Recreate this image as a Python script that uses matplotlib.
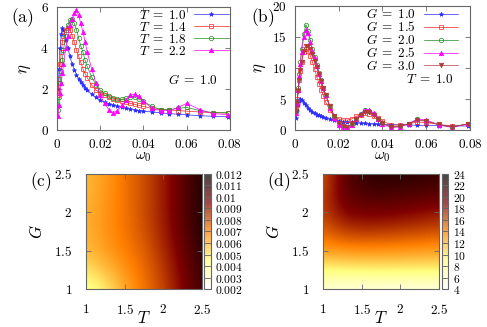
import matplotlib
matplotlib.use('Agg')
import matplotlib.pyplot as plt
import numpy as np
from matplotlib.ticker import FuncFormatter, MultipleLocator
from matplotlib.colors import ListedColormap, Normalize
from matplotlib.cm import ScalarMappable

plt.rcParams['mathtext.fontset'] = 'cm'
plt.rcParams['font.family'] = 'DejaVu Serif'

# frequencies (shared by all curves)
omega = [0.0005, 0.001, 0.0015, 0.002, 0.0025, 0.003, 0.004, 0.005, 0.006, 0.007,
         0.008, 0.009, 0.010, 0.011, 0.012, 0.013, 0.014, 0.016, 0.018, 0.020,
         0.022, 0.024, 0.026, 0.028, 0.030, 0.032, 0.034, 0.036, 0.038, 0.040,
         0.044, 0.048, 0.052, 0.056, 0.060, 0.066, 0.072, 0.079]

# panel (a): G = 1.0, different T
eta_T10 = [2.0, 3.0, 4.0, 4.7, 5.0, 4.9, 4.4, 4.0, 3.6, 3.2, 2.95, 2.7, 2.5, 2.35, 2.2,
           2.05, 1.95, 1.75, 1.6, 1.45, 1.35, 1.28, 1.22, 1.16, 1.1, 1.06, 1.02, 0.98,
           0.95, 0.92, 0.88, 0.84, 0.8, 0.77, 0.74, 0.7, 0.67, 0.65]
eta_T14 = [1.7, 2.5, 3.2, 3.8, 4.3, 4.6, 4.9, 5.0, 4.9, 4.6, 4.3, 3.9, 3.6, 3.3, 3.0,
           2.75, 2.55, 2.2, 1.95, 1.8, 1.7, 1.6, 1.5, 1.45, 1.4, 1.35, 1.3, 1.25,
           1.2, 1.15, 1.05, 1.0, 0.98, 0.95, 0.92, 0.88, 0.85, 0.82]
eta_T18 = [1.0, 1.6, 2.3, 2.9, 3.4, 3.9, 4.6, 5.1, 5.35, 5.4, 5.2, 4.9, 4.5, 4.1, 3.8,
           3.4, 3.1, 2.6, 2.2, 1.95, 1.8, 1.65, 1.55, 1.5, 1.5, 1.55, 1.6, 1.6,
           1.5, 1.4, 1.15, 1.0, 1.0, 1.05, 1.1, 0.95, 0.85, 0.85]
eta_T22 = [0.7, 1.2, 1.8, 2.3, 2.8, 3.2, 4.0, 4.6, 5.1, 5.4, 5.7, 5.85, 5.6, 5.2, 4.8,
           4.3, 3.8, 3.0, 2.3, 1.7, 1.3, 1.0, 0.85, 0.95, 1.2, 1.45, 1.7, 1.75,
           1.65, 1.4, 1.05, 0.95, 0.95, 1.1, 1.3, 1.0, 0.8, 0.75]

# panel (b): T = 1.0, different G
eta_G10 = eta_T10
eta_G15 = [3.5, 5.0, 6.5, 8.0, 9.5, 11.0, 12.5, 13.0, 12.8, 12.0, 11.0, 9.8, 8.5, 7.5,
           6.5, 5.5, 4.5, 3.2, 2.2, 1.8, 1.6, 1.6, 1.8, 2.2, 2.5, 2.7, 2.6, 2.3,
           1.9, 1.5, 0.8, 0.8, 1.0, 1.3, 1.2, 0.9, 0.6, 0.9]
eta_G20 = [3.0, 4.5, 6.8, 9.0, 11.0, 13.0, 15.5, 17.0, 16.0, 14.5, 13.0, 11.8, 10.5,
           9.2, 8.0, 6.8, 5.7, 3.8, 2.2, 1.0, 0.4, 0.4, 0.9, 1.8, 2.6, 3.2, 3.1, 2.6,
           1.8, 1.1, 0.5, 0.6, 1.0, 1.7, 1.5, 0.8, 0.5, 1.0]
eta_G25 = [2.8, 4.3, 6.5, 8.7, 10.7, 12.6, 15.0, 16.2, 15.6, 14.2, 12.8, 11.6, 10.4,
           9.1, 7.9, 6.7, 5.6, 3.6, 2.0, 0.8, 0.2, 0.3, 0.8, 1.7, 2.6, 3.3, 3.2, 2.7,
           1.8, 1.0, 0.4, 0.5, 1.0, 1.8, 1.6, 0.8, 0.4, 1.0]
eta_G30 = [3.0, 4.5, 6.3, 8.0, 9.6, 11.0, 12.8, 13.5, 13.5, 13.0, 12.2, 11.2, 10.2,
           9.0, 7.9, 6.8, 5.7, 3.8, 2.3, 1.2, 0.6, 0.5, 0.9, 1.7, 2.4, 2.9, 2.9, 2.5,
           1.8, 1.1, 0.5, 0.6, 1.0, 1.6, 1.4, 0.9, 0.5, 1.0]

# panels (c), (d): grid in T (columns) and G (rows)
T_grid = [1.0, 1.25, 1.5, 1.75, 2.0, 2.25, 2.5]
G_grid = [1.0, 1.25, 1.5, 1.75, 2.0, 2.25, 2.5]
map_c = [[0.0040, 0.0048, 0.0062, 0.0072, 0.0082, 0.0095, 0.0108],
         [0.0050, 0.0058, 0.0066, 0.0074, 0.0084, 0.0097, 0.0110],
         [0.0058, 0.0064, 0.0070, 0.0076, 0.0087, 0.0099, 0.0112],
         [0.0060, 0.0066, 0.0072, 0.0079, 0.0089, 0.0101, 0.0114],
         [0.0060, 0.0066, 0.0072, 0.0080, 0.0090, 0.0102, 0.0114],
         [0.0059, 0.0065, 0.0072, 0.0080, 0.0090, 0.0102, 0.0114],
         [0.0058, 0.0065, 0.0072, 0.0080, 0.0090, 0.0102, 0.0114]]
map_d = [[5.5, 5.2, 5.0, 5.0, 5.0, 5.0, 5.0],
         [9.0, 9.3, 9.5, 9.5, 9.5, 9.5, 9.5],
         [13.0, 13.2, 13.3, 13.3, 13.2, 13.0, 12.8],
         [15.0, 16.5, 17.0, 16.8, 16.5, 16.2, 15.8],
         [16.5, 19.0, 19.5, 19.5, 19.2, 18.8, 18.3],
         [16.0, 20.0, 21.0, 21.2, 21.0, 20.8, 20.5],
         [15.5, 20.0, 22.0, 22.5, 22.5, 22.3, 22.0]]

spine_col = '#666666'
fmt = FuncFormatter(lambda v, p: f'${v:g}$')

def style_axes(ax, pad=6):
    for s in ax.spines.values():
        s.set_color(spine_col)
        s.set_linewidth(0.8)
    ax.tick_params(direction='in', top=True, right=True, length=3.5,
                   width=0.6, color=spine_col, labelsize=9.5, pad=pad)
    ax.xaxis.set_major_formatter(fmt)
    ax.yaxis.set_major_formatter(fmt)

fig = plt.figure(figsize=(4.87, 3.27), dpi=100)

ax_a = fig.add_axes([0.117, 0.6024, 0.355, 0.3762])
ax_b = fig.add_axes([0.6057, 0.6024, 0.3593, 0.3793])
ax_c = fig.add_axes([0.1766, 0.1162, 0.2382, 0.3517])
ax_d = fig.add_axes([0.6632, 0.1162, 0.2382, 0.3517])
cax_c = fig.add_axes([0.4189, 0.1162, 0.0144, 0.3517])
cax_d = fig.add_axes([0.9076, 0.1162, 0.0133, 0.3517])

blue = '#2b2bff'
red = '#ff2020'
green = '#1e8c1e'
magenta = '#ff00ff'
brown = '#b03c3c'

def curve(ax, y, color, marker, label, filled):
    ax.plot(omega, y, color=color, lw=0.5, marker=marker, ms=3.2, mew=0.5,
            mfc=color if filled else 'none', mec=color, label=label)

leg_kw = dict(loc='upper right', frameon=False, markerfirst=False, fontsize=9.5,
              labelspacing=-0.08, handlelength=2.6, handletextpad=0.6,
              borderaxespad=0.0, borderpad=0.1)

# (a)
curve(ax_a, eta_T10, blue, '*', r'$T\;=\;1.0$', True)
curve(ax_a, eta_T14, red, 's', r'$T\;=\;1.4$', False)
curve(ax_a, eta_T18, green, 'o', r'$T\;=\;1.8$', False)
curve(ax_a, eta_T22, magenta, '^', r'$T\;=\;2.2$', True)
ax_a.set_xlim(0, 0.08)
ax_a.set_ylim(0, 6)
ax_a.xaxis.set_major_locator(MultipleLocator(0.02))
ax_a.yaxis.set_major_locator(MultipleLocator(2))
style_axes(ax_a)
ax_a.set_xlabel(r'$\omega_0$', fontsize=11, labelpad=-1)
ax_a.set_ylabel(r'$\eta$', fontsize=12, labelpad=5)
ax_a.legend(bbox_to_anchor=(1.0, 0.995), **leg_kw)
ax_a.text(0.0745, 2.44, r'$G\;=\;1.0$', fontsize=9.5, ha='right', va='center')
fig.text(0.022, 0.945, r'$\mathrm{(a)}$', fontsize=12.5, ha='left', va='center')

# (b)
curve(ax_b, eta_G10, blue, '*', r'$G\;=\;1.0$', True)
curve(ax_b, eta_G15, red, 's', r'$G\;=\;1.5$', False)
curve(ax_b, eta_G20, green, 'o', r'$G\;=\;2.0$', False)
curve(ax_b, eta_G25, magenta, '^', r'$G\;=\;2.5$', True)
curve(ax_b, eta_G30, brown, 'v', r'$G\;=\;3.0$', True)
ax_b.set_xlim(0, 0.08)
ax_b.set_ylim(0, 20)
ax_b.xaxis.set_major_locator(MultipleLocator(0.02))
ax_b.yaxis.set_major_locator(MultipleLocator(5))
style_axes(ax_b)
ax_b.set_xlabel(r'$\omega_0$', fontsize=11, labelpad=-1)
ax_b.set_ylabel(r'$\eta$', fontsize=12, labelpad=3)
ax_b.legend(bbox_to_anchor=(0.94, 1.0), **leg_kw)
ax_b.text(0.0722, 8.1, r'$T\;=\;1.0$', fontsize=9.5, ha='right', va='center')
fig.text(0.515, 0.945, r'$\mathrm{(b)}$', fontsize=12.5, ha='left', va='center')

# heat maps
cmap = plt.get_cmap('afmhot_r')
cb_colors = cmap(np.linspace(0, 1, 256))
cb_colors[:, 3] = 0.72
cb_cmap = ListedColormap(cb_colors)

def heat(ax, cax, data, vmin, vmax, cticks, label):
    ext = [T_grid[0] - 0.125, T_grid[-1] + 0.125, G_grid[0] - 0.125, G_grid[-1] + 0.125]
    ax.imshow(np.array(data), origin='lower', extent=ext, cmap=cmap,
              vmin=vmin, vmax=vmax, interpolation='bicubic', aspect='auto')
    ax.set_xlim(1, 2.5)
    ax.set_ylim(1, 2.5)
    ax.set_xticks([1, 1.5, 2, 2.5])
    ax.set_yticks([1, 1.5, 2, 2.5])
    style_axes(ax, pad=10)
    ax.set_xlabel(r'$T$', fontsize=12, labelpad=-5)
    ax.set_ylabel(r'$G$', fontsize=12, labelpad=6)
    sm = ScalarMappable(norm=Normalize(vmin, vmax), cmap=cb_cmap)
    cb = fig.colorbar(sm, cax=cax, ticks=cticks)
    cb.outline.set_edgecolor(spine_col)
    cb.outline.set_linewidth(0.8)
    cax.tick_params(direction='in', length=3, width=0.6, color=spine_col,
                    labelsize=8.3, pad=3, left=True)
    cax.yaxis.set_major_formatter(fmt)
    ax.text(-0.48, 0.93, label, transform=ax.transAxes, fontsize=12.5,
            ha='left', va='center')

heat(ax_c, cax_c, map_c, 0.002, 0.012,
     [0.002, 0.003, 0.004, 0.005, 0.006, 0.007, 0.008, 0.009, 0.010, 0.011, 0.012],
     r'$\mathrm{(c)}$')
heat(ax_d, cax_d, map_d, 4, 24, [4, 6, 8, 10, 12, 14, 16, 18, 20, 22, 24],
     r'$\mathrm{(d)}$')

fig.savefig('out.png', dpi=100)
